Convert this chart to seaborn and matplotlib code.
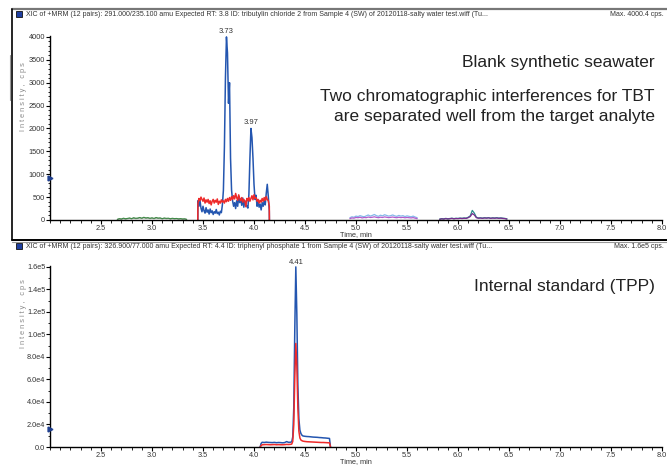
import matplotlib
matplotlib.use("Agg")
import matplotlib.pyplot as plt
from matplotlib.lines import Line2D
from matplotlib.patches import Rectangle
from matplotlib.ticker import MultipleLocator
import seaborn as sns

# ---- data ----
# top panel: 291.0/235.1 transition (TBT) in blank seawater
t_tbt = [3.449, 3.45, 3.46, 3.47, 3.48, 3.49, 3.50, 3.51, 3.52, 3.53, 3.54,
         3.55, 3.56, 3.57, 3.58, 3.59, 3.60, 3.61, 3.62, 3.63, 3.64,
         3.65, 3.66, 3.67, 3.68, 3.69, 3.70, 3.71, 3.72, 3.73, 3.74,
         3.75, 3.76, 3.77, 3.78, 3.79, 3.80, 3.81, 3.82, 3.83, 3.84,
         3.85, 3.86, 3.87, 3.88, 3.89, 3.90, 3.91, 3.92, 3.93, 3.94,
         3.95, 3.96, 3.97, 3.98, 3.99, 4.00, 4.01, 4.02, 4.03, 4.04,
         4.05, 4.06, 4.07, 4.08, 4.09, 4.10, 4.11, 4.12, 4.13, 4.14,
         4.15, 4.151]
tbt_blue = [0, 420, 300, 440, 260, 180, 300, 200, 150, 270, 170,
            220, 130, 240, 160, 200, 120, 180, 150, 230, 140,
            170, 110, 190, 160, 330, 650, 1600, 3100, 4000, 3650,
            2550, 3000, 1350, 650, 420, 300, 380, 250, 420, 300,
            520, 380, 460, 320, 480, 280, 420, 340, 300, 260,
            560, 1350, 2000, 1800, 1350, 780, 450, 540, 300, 400,
            280, 350, 220, 380, 300, 420, 330, 580, 780, 520,
            200, 0]
tbt_red = [0, 360, 470, 420, 500, 450, 410, 480, 370, 440, 390,
           450, 360, 420, 330, 410, 450, 370, 430, 390, 460,
           340, 410, 370, 440, 390, 420, 370, 450, 400, 470,
           410, 490, 430, 510, 450, 530, 460, 580, 490, 430,
           550, 470, 420, 490, 390, 450, 410, 290, 470, 420,
           490, 410, 470, 530, 440, 550, 470, 490, 410, 450,
           370, 430, 390, 470, 410, 490, 430, 510, 450, 420,
           300, 0]

t_early = [2.66, 2.68, 2.70, 2.72, 2.74, 2.76, 2.78, 2.80, 2.82, 2.84,
           2.86, 2.88, 2.90, 2.92, 2.94, 2.96, 2.98, 3.00, 3.02, 3.04,
           3.06, 3.08, 3.10, 3.12, 3.14, 3.16, 3.18, 3.20, 3.22, 3.24,
           3.26, 3.28, 3.30, 3.32, 3.34]
early_green = [15, 30, 22, 40, 28, 35, 45, 30, 50, 38, 42, 55, 40, 60, 45,
               52, 38, 48, 35, 55, 42, 46, 30, 44, 36, 40, 28, 38, 30, 34,
               25, 30, 22, 26, 15]
early_gray = [10, 22, 18, 30, 20, 28, 35, 25, 40, 30, 34, 45, 32, 48, 36,
              42, 30, 40, 28, 44, 34, 38, 24, 36, 28, 32, 22, 30, 24, 28,
              20, 24, 18, 20, 10]

t_mid = [4.94, 4.96, 4.98, 5.00, 5.02, 5.04, 5.06, 5.08, 5.10, 5.12,
         5.14, 5.16, 5.18, 5.20, 5.22, 5.24, 5.26, 5.28, 5.30, 5.32,
         5.34, 5.36, 5.38, 5.40, 5.42, 5.44, 5.46, 5.48, 5.50, 5.52,
         5.54, 5.56, 5.58, 5.60]
mid_lightblue = [50, 70, 60, 85, 75, 95, 80, 70, 90, 110, 85, 100, 120, 95,
                 80, 105, 90, 115, 100, 85, 95, 110, 90, 80, 100, 85, 95,
                 75, 90, 80, 70, 85, 65, 50]
mid_purple = [30, 45, 40, 55, 50, 60, 45, 55, 50, 65, 55, 60, 70, 58, 50,
              62, 55, 68, 60, 52, 58, 65, 55, 50, 60, 52, 58, 48, 55, 50,
              45, 52, 40, 30]

t_late = [5.82, 5.84, 5.86, 5.88, 5.90, 5.92, 5.94, 5.96, 5.98, 6.00,
          6.02, 6.04, 6.06, 6.08, 6.10, 6.12, 6.14, 6.16, 6.18, 6.20,
          6.22, 6.24, 6.26, 6.28, 6.30, 6.32, 6.34, 6.36, 6.38, 6.40,
          6.42, 6.44, 6.46, 6.48]
late_teal = [20, 30, 25, 35, 28, 32, 40, 30, 38, 35, 42, 38, 45, 40, 60,
             90, 210, 150, 60, 45, 48, 42, 50, 45, 52, 40, 48, 44, 50, 42,
             46, 40, 35, 25]
late_purple = [15, 25, 20, 30, 22, 28, 34, 26, 32, 30, 36, 32, 38, 35, 50,
               75, 140, 110, 50, 38, 42, 36, 44, 40, 46, 36, 42, 38, 44, 36,
               40, 34, 30, 20]

# bottom panel: 326.9/77.0 transition (TPP internal standard)
t_tpp = [4.06, 4.07, 4.08, 4.10, 4.12, 4.14, 4.16, 4.18, 4.20, 4.22,
         4.24, 4.26, 4.28, 4.30, 4.32, 4.34, 4.36, 4.37, 4.38, 4.39,
         4.40, 4.41, 4.42, 4.43, 4.44, 4.45, 4.46, 4.47, 4.48, 4.50,
         4.52, 4.54, 4.56, 4.58, 4.60, 4.62, 4.64, 4.66, 4.68, 4.70,
         4.72, 4.74, 4.75]
tpp_blue = [0, 3200, 4200, 4000, 4300, 4100, 4000, 3900, 4100, 3800,
            4000, 3900, 3700, 3900, 4800, 4100, 4300, 4600, 9000, 35000,
            105000, 160000, 118000, 55000, 25000, 15000, 12000, 10500, 9800, 9500,
            9300, 9200, 9000, 8800, 8700, 8600, 8400, 8300, 8100, 8000,
            7800, 7600, 0]
tpp_red = [0, 1200, 2000, 2100, 2200, 2100, 2000, 2100, 2200, 2000,
           2100, 2000, 2000, 2100, 2300, 2200, 2400, 2600, 5000, 20000,
           62000, 92000, 72000, 35000, 14000, 8000, 6200, 5600, 5200, 4900,
           4700, 4600, 4500, 4400, 4300, 4200, 4100, 4000, 4000, 3900,
           3800, 3700, 0]

x_major = [2.5, 3.0, 3.5, 4.0, 4.5, 5.0, 5.5, 6.0, 6.5, 7.0, 7.5, 8.0]
top_yticks = [0, 500, 1000, 1500, 2000, 2500, 3000, 3500, 4000]
bot_yticks = [0, 20000, 40000, 60000, 80000, 100000, 120000, 140000, 160000]
bot_ylabels = ["0.0", "2.0e4", "4.0e4", "6.0e4", "8.0e4", "1.0e5", "1.2e5", "1.4e5", "1.6e5"]
thresholds = [913, 15600]

header_top = ("XIC of +MRM (12 pairs): 291.000/235.100 amu Expected RT: 3.8 ID: tributylin chloride 2 "
              "from Sample 4 (SW) of 20120118-salty water test.wiff (Tu...")
header_bot = ("XIC of +MRM (12 pairs): 326.900/77.000 amu Expected RT: 4.4 ID: triphenyl phosphate 1 "
              "from Sample 4 (SW) of 20120118-salty water test.wiff (Tu...")

BLUE = "#2456b0"
RED = "#ee2a2a"

sns.set_style("ticks")
plt.rcParams["font.family"] = ["Liberation Sans", "DejaVu Sans"]

W, H = 667, 467
fig = plt.figure(figsize=(W / 100, H / 100), dpi=100)


def fx(x):
    return x / W


def fy(y):
    return 1 - y / H


ax1 = fig.add_axes([fx(50), fy(220), 612 / W, 184 / H])
ax2 = fig.add_axes([fx(50), fy(447), 612 / W, 181 / H])

lw = 1.1
sns.lineplot(x=t_early, y=early_gray, ax=ax1, color="#8c9c8c", lw=0.8, estimator=None, sort=False)
sns.lineplot(x=t_early, y=early_green, ax=ax1, color="#3f8a46", lw=0.8, estimator=None, sort=False)
sns.lineplot(x=t_tbt, y=tbt_blue, ax=ax1, color=BLUE, lw=lw, estimator=None, sort=False)
sns.lineplot(x=t_tbt, y=tbt_red, ax=ax1, color=RED, lw=lw, estimator=None, sort=False)
sns.lineplot(x=t_mid, y=mid_lightblue, ax=ax1, color="#86b8ea", lw=0.9, estimator=None, sort=False)
sns.lineplot(x=t_mid, y=mid_purple, ax=ax1, color="#b45ccc", lw=0.9, estimator=None, sort=False)
sns.lineplot(x=t_late, y=late_teal, ax=ax1, color="#2b8c8c", lw=0.9, estimator=None, sort=False)
sns.lineplot(x=t_late, y=late_purple, ax=ax1, color="#7a2c90", lw=0.9, estimator=None, sort=False)

sns.lineplot(x=t_tpp, y=tpp_blue, ax=ax2, color=BLUE, lw=lw, estimator=None, sort=False)
sns.lineplot(x=t_tpp, y=tpp_red, ax=ax2, color=RED, lw=lw, estimator=None, sort=False)

ax1.set_ylim(0, 4020)
ax2.set_ylim(0, 160800)
ax1.set_yticks(top_yticks)
ax1.set_yticklabels([str(v) for v in top_yticks])
ax1.yaxis.set_minor_locator(MultipleLocator(100))
ax2.set_yticks(bot_yticks)
ax2.set_yticklabels(bot_ylabels)
ax2.yaxis.set_minor_locator(MultipleLocator(10000))

for ax, thr in zip((ax1, ax2), thresholds):
    ax.set_xlim(2.0, 8.0)
    ax.set_xticks(x_major)
    ax.set_xticklabels([f"{v:.1f}" for v in x_major])
    ax.xaxis.set_minor_locator(MultipleLocator(0.1))
    sns.despine(ax=ax)
    for s in ("left", "bottom"):
        ax.spines[s].set_linewidth(1.0)
        ax.spines[s].set_color("black")
    ax.tick_params(which="major", length=2.6, width=0.8, color="black",
                   labelsize=5.3, labelcolor="#333333", pad=0.8)
    ax.tick_params(which="minor", length=1.8, width=0.6, color="black")
    ax.set_xlabel("Time, min", fontsize=5.3, color="#333333", labelpad=-0.2)
    ax.set_ylabel("")
    ax.patch.set_alpha(0)
    # threshold marker on the y axis
    ax.plot([2.0], [thr], marker=">", ms=3.5, color="#1f3f8f", clip_on=False, zorder=5)

ax1.annotate("3.73", xy=(3.73, 4000), xytext=(0, 1.5), textcoords="offset points",
             ha="center", va="bottom", fontsize=5.5, color="#333333")
ax1.annotate("3.97", xy=(3.97, 2000), xytext=(0, 2), textcoords="offset points",
             ha="center", va="bottom", fontsize=5.5, color="#333333")
ax2.annotate("4.41", xy=(4.41, 160000), xytext=(0, 1), textcoords="offset points",
             ha="center", va="bottom", fontsize=5.5, color="#333333")

# y axis titles (spaced letters as in the instrument software)
ylab = "I n t e n s i t y ,   c p s"
fig.text(fx(24), fy(97), ylab, rotation=90, ha="center", va="center", fontsize=5.3, color="#8a8a8a")
fig.text(fx(24), fy(314), ylab, rotation=90, ha="center", va="center", fontsize=5.3, color="#8a8a8a")

# panel annotations
fig.text(fx(655), fy(63), "Blank synthetic seawater", ha="right", va="center", fontsize=12.5, color="#222222")
fig.text(fx(655), fy(97), "Two chromatographic interferences for TBT", ha="right", va="center",
         fontsize=12.5, color="#222222")
fig.text(fx(655), fy(117), "are separated well from the target analyte", ha="right", va="center",
         fontsize=12.5, color="#222222")
fig.text(fx(655), fy(287), "Internal standard (TPP)", ha="right", va="center", fontsize=12.5, color="#222222")

# headers
fig.text(fx(26), fy(14), header_top, ha="left", va="center", fontsize=5, color="#333333")
fig.text(fx(664), fy(14), "Max. 4000.4 cps.", ha="right", va="center", fontsize=5, color="#333333")
fig.text(fx(26), fy(246), header_bot, ha="left", va="center", fontsize=5, color="#333333")
fig.text(fx(664), fy(246), "Max. 1.6e5 cps.", ha="right", va="center", fontsize=5, color="#333333")
for yy in (14, 246):
    fig.add_artist(Rectangle((fx(16), fy(yy + 3)), 6 / W, 6 / H, transform=fig.transFigure,
                             facecolor="#1f3fa0", edgecolor="#111111", lw=0.6))

# pane frame of the selected (top) pane
fig.add_artist(Line2D([fx(12), fx(667)], [fy(9), fy(9)], color="#777777", lw=1.6))
fig.add_artist(Line2D([fx(12), fx(12)], [fy(9), fy(240)], color="black", lw=1.2))
fig.add_artist(Line2D([fx(12), fx(667)], [fy(240), fy(240)], color="black", lw=1.4))
fig.add_artist(Line2D([fx(12), fx(667)], [fy(242), fy(242)], color="#999999", lw=0.8))
fig.add_artist(Line2D([fx(10), fx(10)], [fy(55), fy(100)], color="#999999", lw=0.8))

fig.savefig("out.png", dpi=100)
